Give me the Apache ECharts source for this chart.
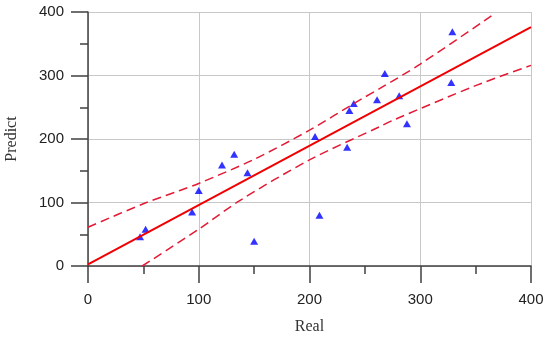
<!DOCTYPE html>
<html>
<head>
<meta charset="utf-8">
<script src="https://cdn.jsdelivr.net/npm/echarts@6/dist/echarts.min.js"></script>
<style>html,body{margin:0;padding:0;background:#fff}#c{width:550px;height:338px}</style>
</head>
<body>
<div id="c"></div>
<script>
var realValues = [47, 52, 94, 100, 121, 132, 144, 150, 205, 209, 234, 236, 240, 261, 268, 281, 288, 328, 329];
var predictValues = [46, 58, 85, 119, 159, 176, 147, 39, 204, 80, 187, 245, 256, 262, 303, 268, 224, 289, 369];
var fitX = [0, 400];
var fitY = [2.7, 376];
var upperX = [0, 50, 83, 100, 150, 200, 246, 264, 300, 366];
var upperY = [61, 98, 119, 130, 168, 214, 262, 280, 318, 396];
var lowerX = [49, 100, 137, 200, 264, 276, 350, 400];
var lowerY = [0, 58, 103, 167, 220, 230, 284, 316];
var tickValues = [0, 100, 200, 300, 400];

function pairs(xs, ys){ return xs.map(function(x,i){ return [x, ys[i]]; }); }

var axisCommon = {
  min: tickValues[0], max: tickValues[tickValues.length-1], interval: 100,
  axisLine: {show: true, lineStyle: {color: '#404040', width: 1.5}},
  axisTick: {show: true, inside: false, length: 17, lineStyle: {color: '#404040', width: 1.5}},
  minorTick: {show: true, splitNumber: 2, length: 8, lineStyle: {color: '#404040', width: 1.5}},
  splitLine: {show: true, lineStyle: {color: '#c8c8c8', width: 1}},
  nameLocation: 'middle',
  nameTextStyle: {fontFamily: 'Liberation Serif', fontSize: 16, color: '#333'}
};

var chart = echarts.init(document.getElementById('c'), null, {renderer: 'canvas'});
chart.setOption({
  animation: false,
  backgroundColor: '#fff',
  grid: {left: 88, right: 19, top: 12, bottom: 72, containLabel: false, outerBoundsMode: 'none'},
  xAxis: Object.assign({}, axisCommon, {
    type: 'value', name: 'Real', nameGap: 53,
    axisLabel: {margin: 26, fontFamily: 'Liberation Sans', fontSize: 15, color: '#222'}
  }),
  yAxis: Object.assign({}, axisCommon, {
    type: 'value', name: 'Predict', nameGap: 68,
    axisLabel: {margin: 24, fontFamily: 'Liberation Sans', fontSize: 15, color: '#222'}
  }),
  series: [
    {type: 'line', data: pairs(upperX, upperY), smooth: 0.3, showSymbol: false, clip: true,
     lineStyle: {color: '#e41a35', width: 1.5, type: [9, 5]}},
    {type: 'line', data: pairs(lowerX, lowerY), smooth: 0.3, showSymbol: false, clip: true,
     lineStyle: {color: '#e41a35', width: 1.5, type: [9, 5]}},
    {type: 'line', data: pairs(fitX, fitY), showSymbol: false,
     lineStyle: {color: '#f00000', width: 2}},
    {type: 'scatter', data: pairs(realValues, predictValues), symbol: 'triangle', symbolSize: [8, 7],
     itemStyle: {color: '#0000ff'}}
  ]
});
</script>
</body>
</html>
